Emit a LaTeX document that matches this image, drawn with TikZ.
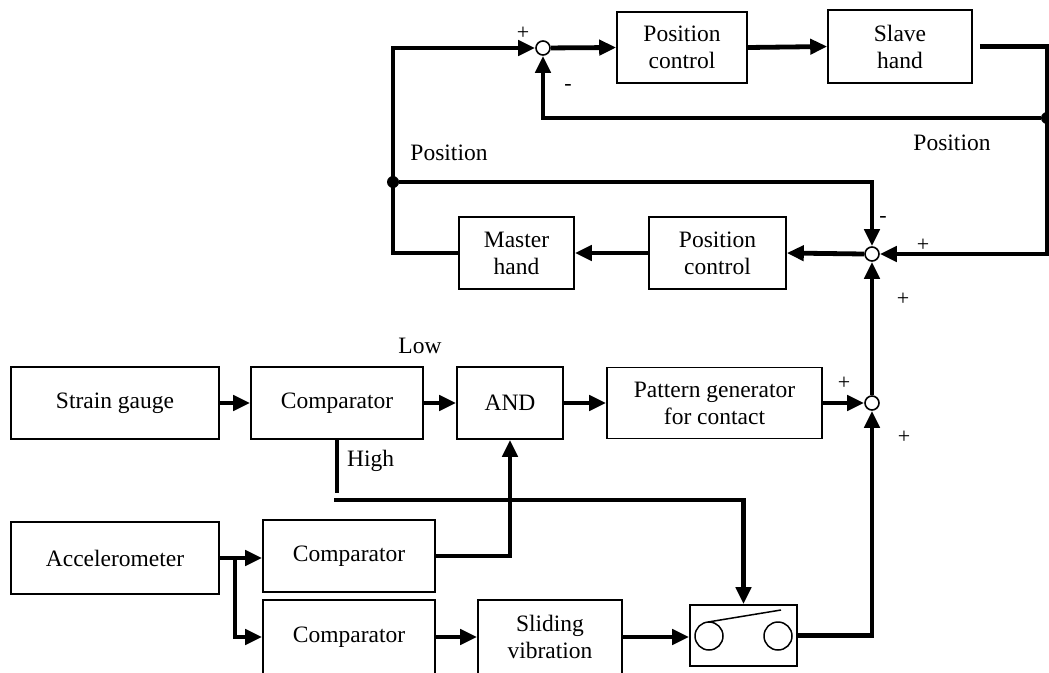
\documentclass[tikz,border=0pt]{standalone}
\usepackage{fontspec}
\setmainfont{Liberation Serif}
\usetikzlibrary{arrows.meta}
\tikzset{
  blk/.style={draw, line width=1.6pt, rectangle, inner sep=0pt, align=center,
    font=\fontsize{23.5}{27}\selectfont},
  sumc/.style={draw, line width=1.6pt, circle, fill=white, inner sep=0pt, minimum size=14pt},
  dotc/.style={circle, fill=black, inner sep=0pt, minimum size=12pt},
  wire/.style={line width=4.8pt},
  arw/.style={line width=4.8pt, -{Triangle[length=17pt,width=15pt]}},
  lbl/.style={font=\fontsize{23.5}{27}\selectfont, inner sep=0pt},
  sgn/.style={font=\fontsize{22}{24}\selectfont, inner sep=0pt},
}
\begin{document}
\begin{tikzpicture}[x=1pt, y=-1pt]
\useasboundingbox (0,0) rectangle (1049,672);
\clip (0,0) rectangle (1049,672);
\fill[white] (0,0) rectangle (1049,672);

% top loop
\node[blk, minimum width=130pt, minimum height=71pt] (pcT) at (682,47.5) {Position\\control};
\node[blk, minimum width=144pt, minimum height=73pt] (slave) at (900,46.5) {Slave\\hand};
\node[sumc] (s1) at (543,48) {};
\node[sumc] (s2) at (872,254) {};
\node[sumc] (s3) at (872,403) {};
\node[blk, minimum width=115pt, minimum height=72pt] (master) at (516.5,253) {Master\\hand};
\node[blk, minimum width=137pt, minimum height=72pt] (pcB) at (717.5,253) {Position\\control};
\node[dotc] (dL) at (393,182) {};
\node[dotc] (dR) at (1047,118) {};
\coordinate (cTL) at (393,48);
\coordinate (cR2) at (1047,254);

% lower part
\node[blk, minimum width=208pt, minimum height=72pt] (sg) at (115,403) {Strain gauge};
\node[blk, minimum width=172pt, minimum height=72pt] (cmp1) at (337,403) {Comparator};
\node[blk, minimum width=106pt, minimum height=72pt] (and) at (510,403) {AND};
\node[blk, minimum width=215pt, minimum height=71pt] (pg) at (714.5,403) {Pattern generator\\for contact};
\node[blk, minimum width=208pt, minimum height=72pt] (acc) at (115,558) {Accelerometer};
\node[blk, minimum width=172pt, minimum height=72pt] (cmp2) at (349,556) {Comparator};
\node[blk, minimum width=172pt, minimum height=74pt] (cmp3) at (349,637) {Comparator};
\node[blk, minimum width=144pt, minimum height=74pt] (slide) at (550,637) {Sliding\\vibration};
\node[draw, line width=1.6pt, rectangle, inner sep=0pt, minimum width=107pt, minimum height=61pt] (sw) at (743.5,635.5) {};
\draw[line width=1.5pt] ([shift={(-34.5,0.5)}]sw.center) circle (14);
\draw[line width=1.5pt] ([shift={(34.5,0.5)}]sw.center) circle (14);
\draw[line width=1.5pt] ([shift={(-35.5,-13.5)}]sw.center) -- ([shift={(37.5,-25.5)}]sw.center);
\coordinate (cH1) at (337,493);
\coordinate (cH2) at (334,500);
\coordinate (cB) at (235,558);

% connectors top
\draw[arw] (master.west) -| (cTL) -- (s1.west);
\draw[arw] (s1) -- (pcT.west);
\draw[arw] (pcT.east) -- (slave.west);
\draw[arw] ([xshift=7pt]slave.east) -| (cR2) -- (s2.east);
\draw[arw] (dR) -| (s1.south);
\draw[arw] (dL) -| (s2.north);
\draw[arw] (s2.west) -- (pcB.east);
\draw[arw] (pcB.west) -- (master.east);
\draw[arw] (s3.north) -- (s2.south);

% connectors bottom
\draw[arw] (sg) -- (cmp1);
\draw[arw] (cmp1) -- (and);
\draw[arw] (and) -- (pg);
\draw[arw] (pg.east) -- (s3.west);
\draw[wire] (cmp1.south) -- (cH1);
\draw[arw] (cH2) -| (sw.north);
\draw[arw] (acc.east) -- (acc.east -| cmp2.west);
\draw[arw] (cB) |- (cmp3.west);
\draw[arw] (cmp2.east) -| (and.south);
\draw[arw] (cmp3) -- (slide);
\draw[arw] (slide.east) -- (slide.east -| sw.west);
\draw[arw] (sw.east) -| (s3.south);

% labels
\node[lbl] (lPosL) at (449,153) {Position};
\node[lbl] (lPosR) at (952,143) {Position};
\node[lbl] (lLow) at (420,346) {Low};
\node[lbl, anchor=west] (lHigh) at (347,461) {High};
\node[sgn] (p1) at (523,33) {+};
\node[sgn] (m1) at (568,87) {-};
\node[sgn] (m2) at (883,219) {-};
\node[sgn] (p2) at (923,245) {+};
\node[sgn] (p3) at (903,299) {+};
\node[sgn] (p4) at (844,383) {+};
\node[sgn] (p5) at (904,437) {+};
\end{tikzpicture}
\end{document}
